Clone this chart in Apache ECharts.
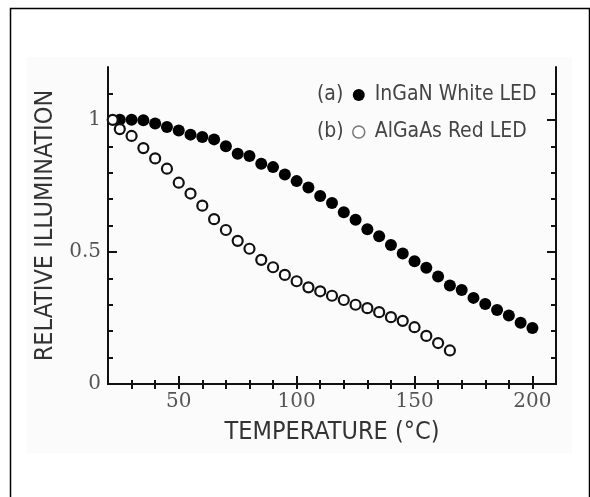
<!DOCTYPE html>
<html>
<head>
<meta charset="utf-8">
<script src="https://cdn.jsdelivr.net/npm/echarts@6/dist/echarts.min.js"></script>
<style>html,body{margin:0;padding:0;background:#fff}#c{width:590px;height:497px}</style>
</head>
<body>
<div id="c"></div>
<script>
// Temperature (°C) for each series
const tempA = [25,30,35,40,45,50,55,60,65,70,75,80,85,90,95,100,105,110,115,120,125,130,135,140,145,150,155,160,165,170,175,180,185,190,195,200];
const valA  = [1.00,1.00,0.998,0.986,0.973,0.960,0.944,0.935,0.926,0.900,0.872,0.863,0.834,0.821,0.793,0.768,0.744,0.712,0.685,0.650,0.622,0.586,0.559,0.526,0.494,0.465,0.440,0.407,0.373,0.356,0.326,0.303,0.280,0.259,0.232,0.212];
const tempB = [22,25,30,35,40,45,50,55,60,65,70,75,80,85,90,95,100,105,110,115,120,125,130,135,140,145,150,155,160,165];
const valB  = [1.00,0.965,0.939,0.893,0.854,0.815,0.762,0.721,0.675,0.624,0.583,0.542,0.512,0.470,0.442,0.413,0.389,0.366,0.351,0.334,0.318,0.300,0.287,0.272,0.253,0.239,0.215,0.182,0.155,0.127];
const nameA = 'InGaN White LED';
const nameB = 'AlGaAs Red LED';
const labelA = '(a)';
const labelB = '(b)';
const xMajor = [50,100,150,200];
const xMinor = [30,40,60,70,80,90,110,120,130,140,160,170,180,190];
const yMajor = [0,0.5,1];
const yMinor = [0.1,0.2,0.3,0.4,0.6,0.7,0.8,0.9,1.1];

const narrow = "'DejaVu Sans Condensed','Liberation Sans Narrow','Arial Narrow',sans-serif";
const serif = "'DejaVu Serif','Liberation Serif',serif";
const axisCommon = {type:'value', min:20, max:210, splitLine:{show:false}};
const yCommon = {type:'value', min:0, max:1.2, splitLine:{show:false}};
const line = {show:true, lineStyle:{color:'#111', width:2}};

const chart = echarts.init(document.getElementById('c'), null, {renderer:'canvas'});
chart.setOption({
  animation:false,
  backgroundColor:'#fff',
  grid:{left:108, right:34, top:67, bottom:113, containLabel:false},
  graphic:[
    {type:'rect', shape:{x:27, y:57, width:545, height:396}, style:{fill:'#fbfbfb'}, z:-10, silent:true},
    {type:'rect', shape:{x:10.5, y:8.5, width:579, height:500}, style:{fill:null, stroke:'#000', lineWidth:1.5}, z:-9, silent:true},
    {type:'text', x:317, y:95, style:{text:labelA, font:'21px '+narrow, fill:'#444', verticalAlign:'middle'}},
    {type:'text', x:317, y:132, style:{text:labelB, font:'21px '+narrow, fill:'#444', verticalAlign:'middle'}}
  ],
  legend:{
    orient:'vertical', left:347, top:78, itemWidth:22, itemHeight:12, itemGap:13,
    textStyle:{fontFamily:narrow, fontSize:21, color:'#444', lineHeight:24},
    data:[
      {name:nameA, icon:'circle'},
      {name:nameB, icon:'circle', itemStyle:{color:'#fff', borderColor:'#777', borderWidth:1.5}}
    ]
  },
  xAxis:[
    Object.assign({}, axisCommon, {position:'bottom', name:'TEMPERATURE (°C)', nameLocation:'middle', nameGap:36,
      nameTextStyle:{fontFamily:narrow, fontSize:25, color:'#333'},
      axisLine:line,
      axisTick:{show:true, inside:true, length:8, customValues:xMajor, lineStyle:{color:'#111', width:2}},
      axisLabel:{show:true, customValues:xMajor, margin:8, fontFamily:serif, fontSize:20, color:'#555'}}),
    Object.assign({}, axisCommon, {position:'bottom',
      axisLine:{show:false},
      axisTick:{show:true, inside:true, length:4, customValues:xMinor, lineStyle:{color:'#111', width:2}},
      axisLabel:{show:false}}),
    Object.assign({}, axisCommon, {position:'top',
      axisLine:line,
      axisTick:{show:true, inside:true, length:5, customValues:xMinor.concat(xMajor), lineStyle:{color:'#111', width:2}},
      axisLabel:{show:false}})
  ],
  yAxis:[
    Object.assign({}, yCommon, {position:'left', name:'RELATIVE ILLUMINATION', nameLocation:'middle', nameGap:47,
      nameTextStyle:{fontFamily:narrow, fontSize:25, color:'#333'},
      axisLine:line,
      axisTick:{show:true, inside:true, length:9, customValues:yMajor, lineStyle:{color:'#111', width:2}},
      axisLabel:{show:true, customValues:yMajor, margin:7, fontFamily:serif, fontSize:20, color:'#555',
        formatter:function(v){return String(Math.round(v*10)/10);}}}),
    Object.assign({}, yCommon, {position:'left',
      axisLine:{show:false},
      axisTick:{show:true, inside:true, length:5, customValues:yMinor, lineStyle:{color:'#111', width:2}},
      axisLabel:{show:false}}),
    Object.assign({}, yCommon, {position:'right',
      axisLine:line,
      axisTick:{show:true, inside:true, length:9, customValues:yMajor, lineStyle:{color:'#111', width:2}},
      axisLabel:{show:false}}),
    Object.assign({}, yCommon, {position:'right',
      axisLine:{show:false},
      axisTick:{show:true, inside:true, length:5, customValues:yMinor, lineStyle:{color:'#111', width:2}},
      axisLabel:{show:false}})
  ],
  series:[
    {name:nameB, type:'scatter', xAxisIndex:0, yAxisIndex:0, symbol:'circle', symbolSize:10,
      itemStyle:{color:'#fff', borderColor:'#111', borderWidth:2.2, opacity:1},
      data:tempB.map((t,i)=>[t,valB[i]]), z:3},
    {name:nameA, type:'scatter', xAxisIndex:0, yAxisIndex:0, symbol:'circle', symbolSize:12,
      itemStyle:{color:'#000', opacity:1},
      data:tempA.map((t,i)=>[t,valA[i]]), z:2}
  ]
});
</script>
</body>
</html>
